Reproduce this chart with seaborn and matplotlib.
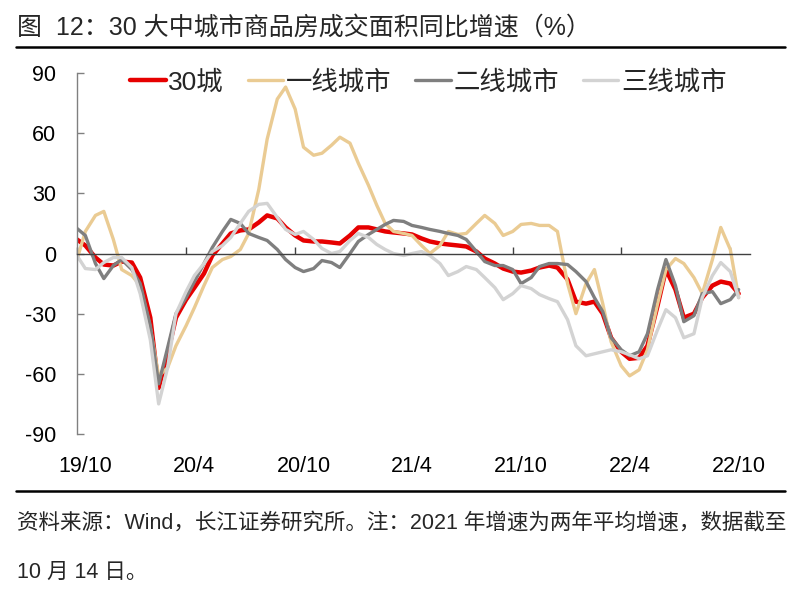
import matplotlib
matplotlib.use("Agg")
from matplotlib import pyplot as plt
from matplotlib.lines import Line2D
import matplotlib.dates as mdates
import pandas as pd
import seaborn as sns

# semi-monthly sampling, 2019-10-01 .. 2022-10-15
dates = pd.date_range("2019-10-01", "2022-10-15", freq="SMS")

city30 = [7, 4, -2, -5.5, -6, -4, -4.5, -12, -32, -67,
          -50, -32, -23, -17, -10, -1, 5, 10, 11.5, 12,
          15.5, 19, 17.5, 13, 9, 6.5, 6, 6, 5.5, 5,
          9, 13, 13, 12, 11, 10.5, 10, 9.5, 7.5, 6,
          5, 4.5, 4, 3.5, 1, -2.5, -5, -7.5, -9, -9.5,
          -8.5, -7, -6, -7, -13, -24, -25, -24, -30, -42,
          -49, -52.5, -52, -46, -26, -8, -18, -32, -30, -22,
          -16, -14, -15, -20]
tier1 = [-3, 11, 19, 21, 7, -8, -11, -16, -37, -61,
         -57, -46, -36, -27, -16, -7, -3, -1.5, 2, 10,
         32, 57, 77, 83, 72, 53, 49, 50, 54, 58,
         55, 45, 34, 24, 15, 11, 10, 9, 4, 0,
         4, 11, 9.5, 10, 15, 19, 15, 9, 11, 14.5,
         15, 14, 14, 11, -15, -30, -15, -8, -25, -44,
         -56, -61, -58, -48, -25, -8, -2.5, -5, -12, -20,
         -3, 13, 2, -22]
tier2 = [12.5, 9, -5, -12.5, -6, -3, -8, -15, -36, -65,
         -47, -30, -22, -14, -5, 3, 11, 17, 15, 10,
         8, 6.5, 2, -3, -7, -9, -7.5, -3.5, -4.5, -7,
         0, 6, 9.5, 12, 14.5, 16.5, 16, 14, 13, 12,
         11, 10, 9, 7, 1, -4, -6, -6, -8, -15,
         -12, -6.5, -5, -5, -5.5, -9, -14, -22, -29, -42,
         -48, -51, -49, -40, -18, -3, -16, -34, -31, -20,
         -19, -25, -23, -18]
tier3 = [-1, -7.5, -8, -4.5, -2, -2, -7, -20, -43, -75,
         -57, -30, -19, -11, -5, 1, 4, 8, 15, 21,
         24.5, 25, 18, 12, 9.5, 11, 7, 2.5, 0, 1,
         6.5, 10, 8, 4.5, 2, 0, -1, 0, 1, -1,
         -5, -11, -9, -6.5, -8, -12, -17, -23, -20, -16,
         -17.5, -20.5, -22.5, -24, -33, -46, -51, -50, -49, -48,
         -49, -50.5, -52.5, -51, -38, -28, -32, -42, -40, -22,
         -11, -4.5, -9, -22]

series_names = ["30城", "一线城市", "二线城市", "三线城市"]
series_colors = ["#E60000", "#EACB93", "#7F7F7F", "#D3D3D3"]
series_widths = [3.2, 2.4, 2.4, 2.4]

tick_dates = pd.date_range("2019-10-01", "2022-10-01", freq="6MS")
tick_labels = ["19/10", "20/4", "20/10", "21/4", "21/10", "22/4", "22/10"]

title = "图  12：30 大中城市商品房成交面积同比增速（%）"
source = "资料来源：Wind，长江证券研究所。注：2021 年增速为两年平均增速，数据截至"
source2 = "10 月 14 日。"

sns.set_theme(style="white")
plt.rcParams["font.family"] = ["Liberation Sans", "Noto Sans CJK SC"]
plt.rcParams["axes.unicode_minus"] = False

fig = plt.figure(figsize=(7.97, 5.96), dpi=100)
ax = fig.add_axes([0.0966, 0.2718, 0.8444, 0.6057])

for vals, name, col, lw in zip([city30, tier1, tier2, tier3],
                               series_names, series_colors, series_widths):
    sns.lineplot(x=dates, y=vals, color=col, linewidth=lw, label=name, ax=ax)

ax.set_xlim(pd.Timestamp("2019-10-01"), pd.Timestamp("2022-11-03"))
ax.set_ylim(-90, 90)
ax.set_yticks(range(-90, 91, 30))
ax.set_xlabel("")
ax.set_ylabel("")

for s in ["top", "right"]:
    ax.spines[s].set_visible(False)
ax.spines["left"].set_color("#808080")
ax.spines["left"].set_linewidth(1.0)
ax.spines["bottom"].set_position(("data", 0))
ax.spines["bottom"].set_color("#404040")
ax.spines["bottom"].set_linewidth(1.0)

ax.set_xticks(tick_dates)
ax.tick_params(axis="x", direction="in", length=5, width=1, color="#404040",
               labelbottom=False, bottom=True)
ax.tick_params(axis="y", direction="in", length=5, width=1, color="#808080",
               left=True, labelsize=15.5, pad=15, labelcolor="black")

# category labels sit between ticks (half a month later)
sec = ax.secondary_xaxis("bottom")
label_pos = mdates.date2num(tick_dates + pd.Timedelta(days=14))
sec.set_xticks(label_pos, labels=tick_labels)
sec.tick_params(length=0, pad=16, labelsize=15.5, labelcolor="black")
sec.spines["bottom"].set_visible(False)

ax.legend(loc="center", bbox_to_anchor=(0.522, 0.975), ncol=4, frameon=False,
          fontsize=19, handlelength=1.35, handletextpad=0.1,
          columnspacing=0.9, borderaxespad=0)

fig.text(0.021, 1 - 28 / 596, title, fontsize=18, va="center", ha="left")
fig.add_artist(Line2D([0.02, 0.985], [1 - 47 / 596] * 2,
                      transform=fig.transFigure, color="black", lw=1.8))
fig.add_artist(Line2D([0.02, 0.985], [1 - 491 / 596] * 2,
                      transform=fig.transFigure, color="black", lw=1.8))
fig.text(0.021, 1 - 523 / 596, source, fontsize=15.5, va="center", ha="left")
fig.text(0.021, 1 - 572 / 596, source2, fontsize=15.5, va="center", ha="left")

fig.savefig("out.png", dpi=100)
